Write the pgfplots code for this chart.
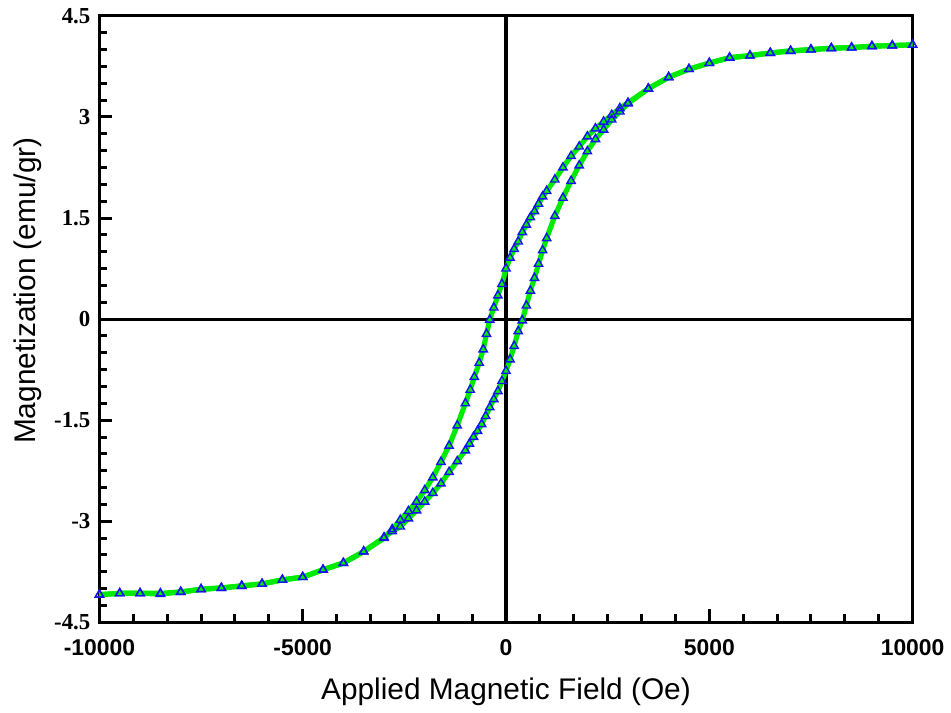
\documentclass[border=0pt]{standalone}
\usepackage{pgfplots}
\pgfplotsset{compat=1.18}
\usepackage{fontspec}
\setmainfont{Liberation Sans}
\newfontfamily\serifb{Liberation Serif}
\usetikzlibrary{calc}
\definecolor{loopgreen}{RGB}{0,235,0}
\definecolor{markblue}{RGB}{20,20,240}

% descending field branch
\pgfplotstableread{
H M
10000 4.07
9500 4.06
9000 4.05
8500 4.03
8000 4.02
7500 4.00
7000 3.98
6500 3.95
6000 3.91
5500 3.88
5000 3.80
4500 3.71
4000 3.59
3500 3.42
3000 3.21
2800 3.13
2600 3.03
2400 2.93
2200 2.83
2000 2.71
1800 2.56
1600 2.42
1400 2.25
1200 2.07
1000 1.90
900 1.82
800 1.71
700 1.60
600 1.51
500 1.40
400 1.29
300 1.15
200 1.04
100 0.91
0 0.75
-100 0.52
-200 0.35
-300 0.17
-400 -0.01
-480 -0.22
-560 -0.45
-660 -0.65
-780 -0.86
-880 -1.05
-1000 -1.25
-1200 -1.58
-1400 -1.88
-1600 -2.12
-1800 -2.35
-2000 -2.54
-2200 -2.71
-2400 -2.85
-2600 -2.98
-2800 -3.12
-3000 -3.25
-3500 -3.45
-4000 -3.62
-4500 -3.72
-5000 -3.83
-5500 -3.87
-6000 -3.93
-6500 -3.96
-7000 -3.99
-7500 -4.01
-8000 -4.05
-8500 -4.07
-9000 -4.07
-9500 -4.07
-10000 -4.09
}\down

% ascending field branch
\pgfplotstableread{
H M
-10000 -4.09
-9500 -4.07
-9000 -4.07
-8500 -4.08
-8000 -4.05
-7500 -4.01
-7000 -3.99
-6500 -3.96
-6000 -3.93
-5500 -3.87
-5000 -3.83
-4500 -3.72
-4000 -3.62
-3500 -3.45
-3000 -3.24
-2800 -3.15
-2600 -3.08
-2400 -2.96
-2200 -2.84
-2000 -2.71
-1800 -2.58
-1600 -2.44
-1400 -2.27
-1200 -2.11
-1000 -1.95
-900 -1.85
-800 -1.75
-700 -1.66
-600 -1.56
-500 -1.44
-400 -1.31
-300 -1.19
-200 -1.07
-100 -0.92
0 -0.77
100 -0.60
200 -0.40
300 -0.18
400 -0.02
500 0.20
600 0.42
700 0.61
800 0.82
900 1.02
1000 1.20
1200 1.53
1400 1.80
1600 2.05
1800 2.28
2000 2.49
2200 2.67
2400 2.81
2600 2.96
2800 3.08
3000 3.20
3500 3.42
4000 3.59
4500 3.71
5000 3.80
5500 3.88
6000 3.91
6500 3.95
7000 3.98
7500 4.00
8000 4.02
8500 4.03
9000 4.05
9500 4.06
10000 4.07
}\up

\begin{document}
\begin{tikzpicture}
\begin{axis}[
  name=ax,
  scale only axis,
  width=409pt, height=305pt,
  xmin=-10000, xmax=10000,
  ymin=-4.5, ymax=4.5,
  scaled x ticks=false,
  xtick={-10000,-5000,0,5000,10000},
  xticklabels={-10000,-5000,0,5000,10000},
  ytick={-4.5,-3,-1.5,0,1.5,3,4.5},
  yticklabels={-4.5,-3,-1.5,0,1.5,3,4.5},
  minor x tick num=5,
  minor y tick num=5,
  xtick pos=left, ytick pos=left,
  tick align=inside,
  major tick length=6.5pt,
  minor tick length=4pt,
  tick style={black, line width=1.5pt},
  axis line style={line width=1.5pt},
  xticklabel style={font=\fontsize{11.5}{12}\selectfont\bfseries, yshift=-5pt},
  yticklabel style={font=\fontsize{11.5}{12}\selectfont\serifb\bfseries, xshift=-1pt},
  xlabel={Applied Magnetic Field (Oe)},
  ylabel={Magnetization (emu/gr)},
  label style={font=\fontsize{15}{16}\selectfont},
  xlabel style={at={(axis description cs:0.5,0)}, anchor=center, yshift=-35pt},
  ylabel style={at={(axis description cs:0,0.547)}, anchor=center, yshift=36pt},
  clip=false,
]
\draw[black, line width=1.6pt] (axis cs:0,-4.5) -- (axis cs:0,4.5);
\draw[black, line width=1.6pt] (axis cs:-10000,0) -- (axis cs:10000,0);
\addplot[loopgreen, line width=2.6pt, mark=triangle, mark size=2.4pt,
  mark options={markblue, fill=white, line width=0.7pt}] table[x=H, y=M] {\down};
\addplot[loopgreen, line width=2.6pt, mark=triangle, mark size=2.4pt,
  mark options={markblue, fill=white, line width=0.7pt}] table[x=H, y=M] {\up};
\end{axis}
\useasboundingbox ($(ax.south west)+(-50pt,-41pt)$) rectangle ($(ax.north east)+(16.5pt,8pt)$);
\end{tikzpicture}
\end{document}
